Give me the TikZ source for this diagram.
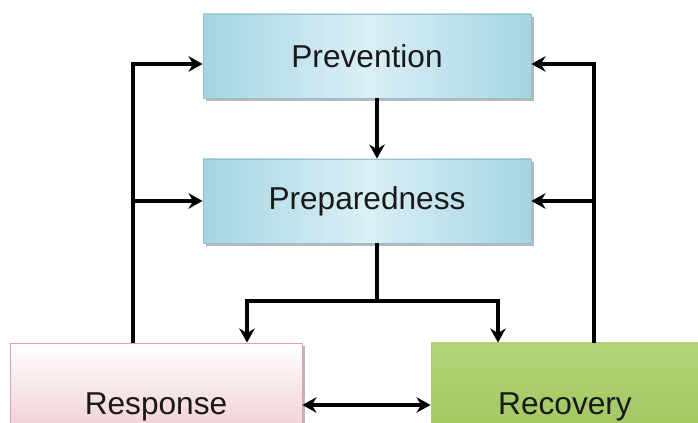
\documentclass[tikz,border=0pt]{standalone}
\usepackage{fontspec}
\setmainfont{Liberation Sans}
\usepackage{xcolor}
\usetikzlibrary{arrows.meta, positioning, calc, shadows}

\definecolor{phaseblue}{RGB}{165,213,228}
\definecolor{phaselight}{RGB}{218,239,246}
\definecolor{phaseedge}{RGB}{150,192,206}
\definecolor{respedge}{RGB}{226,160,170}
\definecolor{resplow}{RGB}{234,186,192}
\definecolor{recodark}{RGB}{152,193,88}
\definecolor{recolight}{RGB}{180,212,120}
\definecolor{recoedge}{RGB}{170,205,120}

\begin{document}
\begin{tikzpicture}[
    phase/.style={rectangle, text=black!90, align=center, font=\fontsize{22.5}{27}\selectfont,
        line width=0.6pt, drop shadow={shadow xshift=2pt, shadow yshift=-2pt, fill=black!35, opacity=0.8}},
    cyclebox/.style={phase, draw=phaseedge, left color=phaseblue, right color=phaseblue, middle color=phaselight, minimum width=8.2cm, minimum height=2.1cm},
    respbox/.style={phase, draw=respedge, top color=white, bottom color=resplow, minimum width=7.3cm, minimum height=3.2cm},
    recobox/.style={phase, draw=recoedge, top color=recolight, bottom color=recodark, minimum width=6.7cm, minimum height=3.2cm},
    arrow/.style={-{Stealth[length=10pt, width=11pt]}, line width=2.8pt, draw=black},
    link/.style={line width=2.8pt, draw=black}
]
    \path[use as bounding box, clip] (0,0) rectangle (17.45,10.575);

    \node[cyclebox] (prev) at (9.175, 9.175) {Prevention};
    \node[cyclebox] (prep) at (9.175, 5.55) {Preparedness};
    \node[respbox] (resp) at (3.9, 0.4) {Response};
    \node[recobox] (reco) at (14.125, 0.4) {Recovery};

    % trunks and branch points
    \coordinate (lx) at ([xshift=-0.575cm]resp.north);
    \coordinate (rx) at ([xshift=0.725cm]reco.north);
    \coordinate (split) at ([xshift=0.25cm, yshift=-1.45cm]prep.south);

    \draw[arrow] ([xshift=0.25cm]prev.south) -- ([xshift=0.25cm]prep.north);
    \draw[link] ([xshift=0.25cm]prep.south) -- (split);
    \draw[arrow] (split) -| ([xshift=2.275cm]resp.north);
    \draw[arrow] (split) -| ([xshift=-1.675cm]reco.north);

    \draw[arrow] (lx) |- ([yshift=-0.2cm]prev.west);
    \draw[arrow] (lx |- prep.west) -- (prep.west);
    \draw[arrow] (rx) |- ([yshift=-0.2cm]prev.east);
    \draw[arrow] (rx |- prep.east) -- (prep.east);

    \draw[arrow, {Stealth[length=10pt, width=11pt]}-{Stealth[length=10pt, width=11pt]}] ([yshift=0.05cm]resp.east) -- ([yshift=0.05cm]reco.west);
\end{tikzpicture}
\end{document}
